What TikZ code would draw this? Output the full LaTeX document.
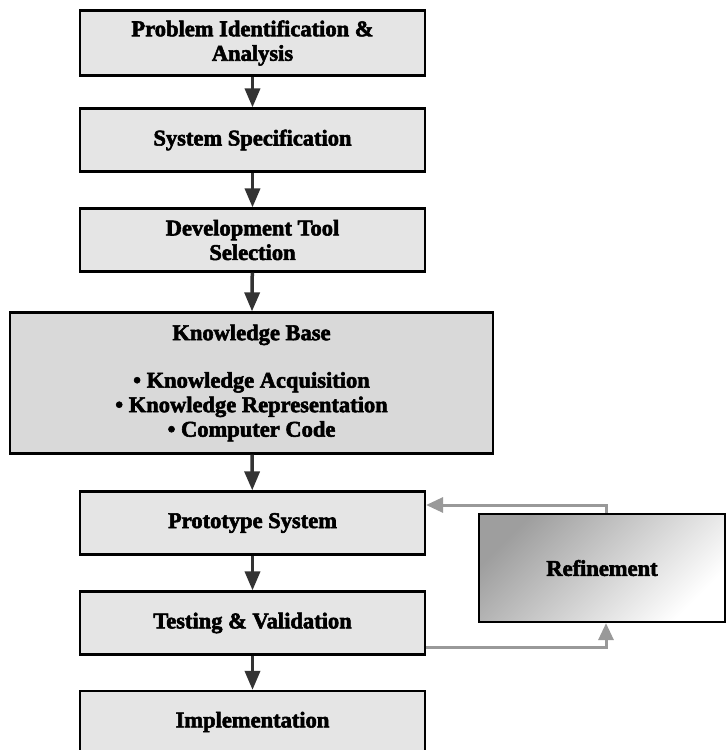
\documentclass[tikz,border=0pt]{standalone}
\usepackage{fontspec}
\setmainfont{Liberation Serif}[BoldFeatures={FakeBold=2.5}]
\usetikzlibrary{arrows.meta}
\tikzset{
  stepbox/.style={draw=black, line width=2.2pt, fill=black!10, minimum width=345pt, minimum height=63pt, inner sep=0pt, align=center, font=\fontsize{22.5}{24.5}\selectfont\bfseries},
  flow/.style={draw=black!80, line width=3.5pt, -{Triangle[length=19pt,width=15pt]}},
  fb/.style={draw=black!40, line width=3pt, -{Triangle[length=17pt,width=15pt]}}
}
\begin{document}
\begin{tikzpicture}[x=1pt,y=-1pt]
\useasboundingbox (0,0) rectangle (726,750);
\node[stepbox, minimum height=65pt] (b1) at (252.5,43) {Problem Identification \&\\Analysis};
\node[stepbox] (b2) at (252.5,140) {System Specification};
\node[stepbox] (b3) at (252.5,240) {Development Tool\\Selection};
\node[stepbox, fill=black!15, minimum width=483pt, minimum height=141pt] (kb) at (251.5,383) {Knowledge Base\\[23pt]\textbullet\ Knowledge Acquisition\\\textbullet\ Knowledge Representation\\\textbullet\ Computer Code};
\node[stepbox] (pr) at (252.5,523) {Prototype System};
\node[stepbox] (te) at (252.5,623) {Testing \& Validation};
\node[stepbox, minimum height=62pt] (im) at (252.5,722) {Implementation};
\node[stepbox, minimum width=246pt, minimum height=108pt, top color=black!38, bottom color=white, shading angle=45] (rf) at (602,568) {Refinement};
\draw[flow] (b1) -- (b2);
\draw[flow] (b2) -- (b3);
\draw[flow] (b3) -- (kb);
\draw[flow] (kb) -- (pr);
\draw[flow] (pr) -- (te);
\draw[flow] (te) -- (im);
\coordinate (c1) at (606,505);
\coordinate (c2) at (606,647);
\draw[fb] (c1 |- rf.north) -- (c1) -- (c1 -| pr.east);
\draw[fb] (c2 -| te.east) -- (c2) -- (c2 |- rf.south);
\end{tikzpicture}
\end{document}
